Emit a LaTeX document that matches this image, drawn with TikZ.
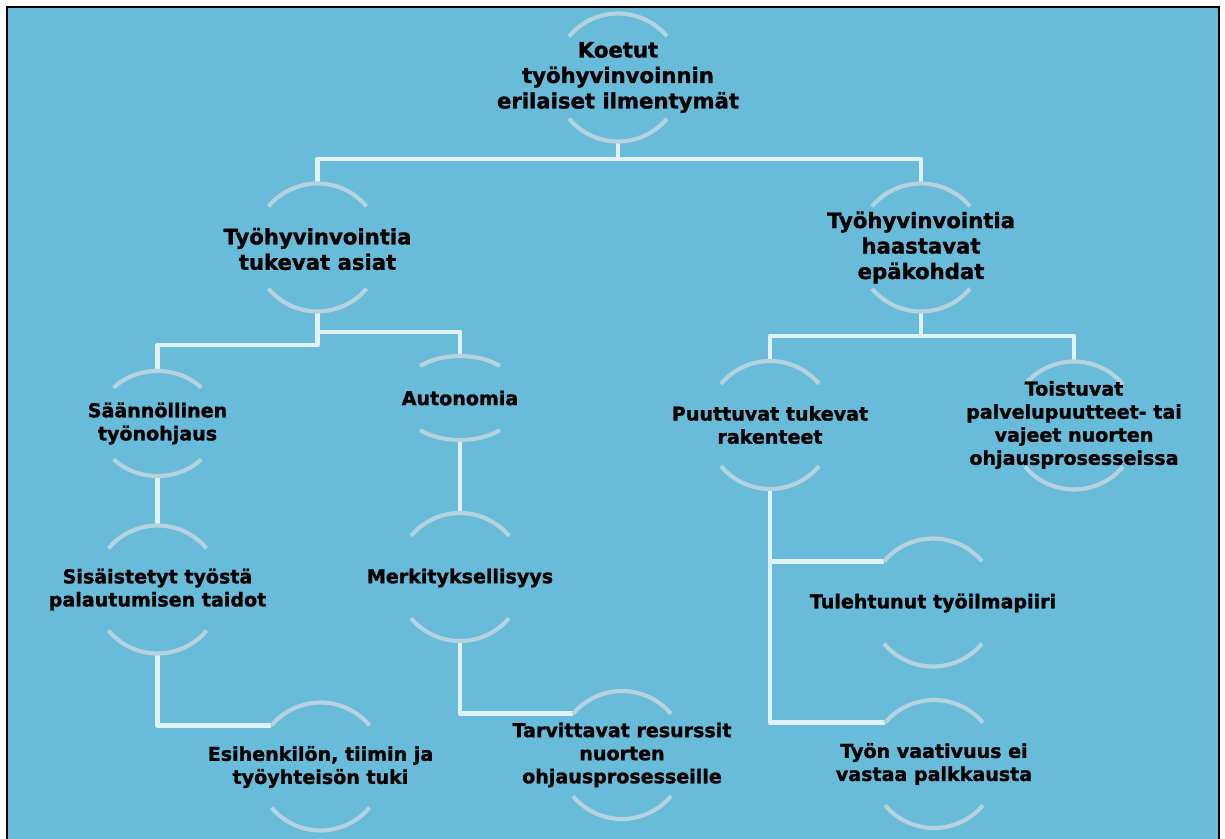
\documentclass[tikz,border=0pt]{standalone}
\usepackage{fontspec}
\setmainfont{DejaVu Sans}[BoldFeatures={FakeBold=1.3}]
\usetikzlibrary{shapes.geometric}
\definecolor{bgblue}{RGB}{104,187,217}
\definecolor{arcgray}{RGB}{181,211,222}
\definecolor{connwhite}{RGB}{224,241,248}
\begin{document}
\begin{tikzpicture}[x=0.75pt,y=-0.75pt,
  ring/.style={circle,draw=none,minimum size=96pt,inner sep=0pt,outer sep=0pt},
  ovalring/.style={ellipse,draw=none,inner sep=0pt,outer sep=0pt},
  bigtxt/.style={font=\bfseries\fontsize{15.9pt}{19.1pt}\selectfont,align=center,inner sep=0pt},
  smalltxt/.style={font=\bfseries\fontsize{14.3pt}{17.3pt}\selectfont,align=center,inner sep=0pt},
  arcline/.style={draw=arcgray,line width=3.1pt},
  conn/.style={draw=connwhite,line width=3.6pt,line join=round}]

\useasboundingbox (0,0) rectangle (1225,839);
\fill[white] (0,0) rectangle (1225,839);
\fill[bgblue] (7.3,7.3) rectangle (1219,839);
\draw[black,line width=1.6pt] (7.3,839) -- (7.3,7.3) -- (1219,7.3) -- (1219,839);

% ring frames
\node[ring] (rootc) at (618,77.5) {};
\node[ring] (L1c) at (317.5,247.5) {};
\node[ring] (R1c) at (921,247.5) {};
\node[ovalring,minimum width=90pt,minimum height=78.75pt] (Sc) at (157.5,423.5) {};
\node[ovalring,minimum width=93pt,minimum height=63pt] (Ac) at (460,398) {};
\node[ring] (Pc) at (770,425) {};
\node[ring] (Tc) at (1074,425.5) {};
\node[ring] (Sic) at (157.5,589.5) {};
\node[ring] (Mc) at (460,577) {};
\node[ring] (Tuc) at (933,602.5) {};
\node[ring] (Ec) at (320.5,766.5) {};
\node[ring] (Tac) at (622,755) {};
\node[ring] (Tyc) at (934,764) {};

% connectors
\coordinate (j0) at (618,159);
\draw[conn] (rootc.south) -- (j0);
\draw[conn] (L1c.north) |- (j0) -| (R1c.north);
\coordinate (j1a) at (317.5,332);
\coordinate (j1b) at (317.5,345);
\draw[conn] (L1c.south) -- (j1b) -| (Sc.north);
\draw[conn] (j1a) -| (Ac.north);
\coordinate (j2) at (921,336);
\draw[conn] (R1c.south) -- (j2);
\draw[conn] (Pc.north) |- (j2) -| (Tc.north);
\draw[conn] (Sc.south) -- (Sic.north);
\draw[conn] (Sic.south) |- (Ec.140);
\draw[conn] (Ac.south) -- (Mc.north);
\draw[conn] (Mc.south) |- (Tac.140);
\draw[conn] (Pc.south) |- (Tuc.140);
\draw[conn] (Pc.south) |- (Tyc.140);

% arcs
\foreach \n in {rootc,L1c,R1c,Pc,Tc,Sic,Mc,Tuc,Ec,Tac,Tyc}{
  \draw[arcline] (\n.40) arc[start angle=40,end angle=140,radius=48pt];
  \draw[arcline] (\n.220) arc[start angle=220,end angle=320,radius=48pt];
}
\draw[arcline] ([shift={(43:45pt and 39.4pt)}]Sc.center) arc[start angle=43,end angle=137,x radius=45pt,y radius=39.4pt];
\draw[arcline] ([shift={(223:45pt and 39.4pt)}]Sc.center) arc[start angle=223,end angle=317,x radius=45pt,y radius=39.4pt];
\draw[arcline] ([shift={(50:46.5pt and 31.5pt)}]Ac.center) arc[start angle=50,end angle=130,x radius=46.5pt,y radius=31.5pt];
\draw[arcline] ([shift={(230:46.5pt and 31.5pt)}]Ac.center) arc[start angle=230,end angle=310,x radius=46.5pt,y radius=31.5pt];

% texts
\node[bigtxt] (root) at (618,77.5) {Koetut\\työhyvinvoinnin\\erilaiset ilmentymät};
\node[bigtxt] (L1) at (317.5,249) {Työhyvinvointia\\tukevat asiat};
\node[bigtxt] (R1) at (921,247.5) {Työhyvinvointia\\haastavat\\epäkohdat};
\node[smalltxt] (S) at (157.5,423.5) {Säännöllinen\\työnohjaus};
\node[smalltxt] (A) at (460,398) {Autonomia};
\node[smalltxt] (P) at (770,425) {Puuttuvat tukevat\\rakenteet};
\node[smalltxt] (T) at (1074,425) {Toistuvat\\palvelupuutteet- tai\\vajeet nuorten\\ohjausprosesseissa};
\node[smalltxt] (Si) at (157.5,589.5) {Sisäistetyt työstä\\palautumisen taidot};
\node[smalltxt] (M) at (460,578) {Merkityksellisyys};
\node[smalltxt] (Tu) at (933,603) {Tulehtunut työilmapiiri};
\node[smalltxt] (E) at (320.5,767) {Esihenkilön, tiimin ja\\työyhteisön tuki};
\node[smalltxt] (Ta) at (622,755) {Tarvittavat resurssit\\nuorten\\ohjausprosesseille};
\node[smalltxt] (Ty) at (934,764) {Työn vaativuus ei\\vastaa palkkausta};
\end{tikzpicture}
\end{document}
